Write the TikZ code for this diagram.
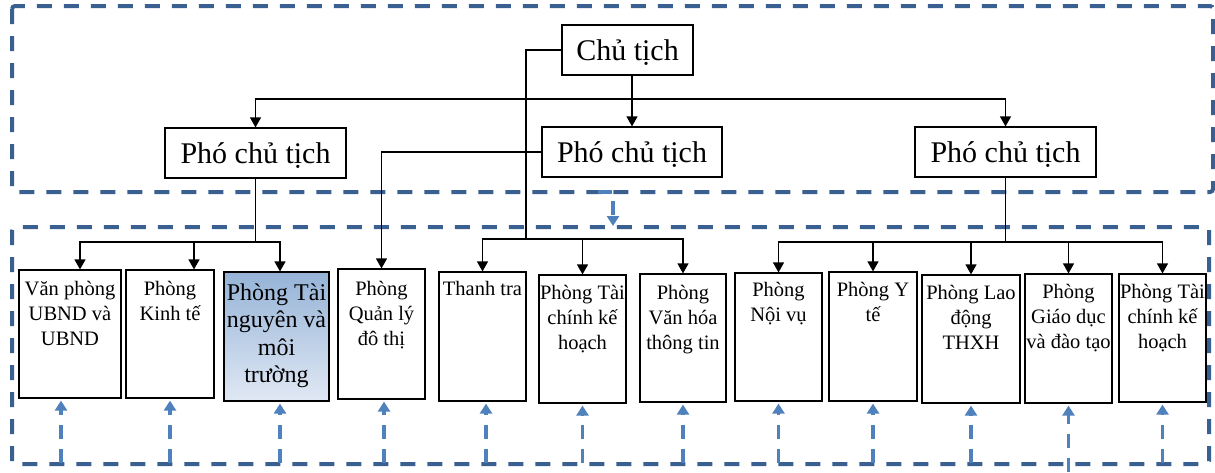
\documentclass[tikz,border=0pt]{standalone}
\usepackage{fontspec}
\setmainfont{Liberation Serif}
\usetikzlibrary{arrows.meta,calc}
\definecolor{frameblue}{RGB}{58,96,145}
\definecolor{linkblue}{RGB}{79,129,189}
\definecolor{shadetop}{RGB}{149,179,215}
\definecolor{shadebot}{RGB}{224,232,244}
\begin{document}
\begin{tikzpicture}[x=1pt,y=-1pt,
  frame/.style={draw=frameblue,line width=4pt,dash pattern=on 15pt off 12pt,rounded corners=3pt},
  lead/.style={draw,line width=1.2pt,inner sep=0pt,minimum height=50pt,text height=22pt,text depth=1pt,font=\fontsize{30}{34}\selectfont},
  dept/.style={draw,line width=1.2pt,inner sep=0pt},
  dtext/.style={anchor=north,align=center,inner sep=0pt,font=\fontsize{20.5}{25}\selectfont},
  conn/.style={draw=black,line width=1.2pt},
  arr/.style={conn,-{Triangle[width=11pt,length=10pt]}},
  uplink/.style={draw=linkblue,line width=3.8pt,dash pattern=on 14pt off 10pt,-{Triangle[width=12pt,length=10pt]}}]
\useasboundingbox (0,0) rectangle (1215,472);

% group frames
\draw[frame] (12,6) rectangle (1213,192);
\draw[frame] (12,227) rectangle (1209,464);

% leadership
\node[lead,minimum width=131pt] (ct) at (627.5,50) {Chủ tịch};
\node[lead,minimum width=181pt] (pl) at (255.5,153) {Phó chủ tịch};
\node[lead,minimum width=180pt] (pm) at (632,152) {Phó chủ tịch};
\node[lead,minimum width=181pt] (pr) at (1005.5,152) {Phó chủ tịch};

% departments
\node[dept,minimum width=102pt,minimum height=128pt] (vp) at (70,334) {};
\node[dept,minimum width=88pt,minimum height=128pt] (kt) at (170,334) {};
\node[dept,minimum width=105pt,minimum height=129pt,top color=shadetop,bottom color=shadebot] (tn) at (276.5,336.5) {};
\node[dept,minimum width=87pt,minimum height=130pt] (ql) at (381.5,334) {};
\node[dept,minimum width=87pt,minimum height=129pt] (tt) at (482.5,336.5) {};
\node[dept,minimum width=87pt,minimum height=128pt] (tc1) at (582.5,339) {};
\node[dept,minimum width=86pt,minimum height=128pt] (vh) at (683,338) {};
\node[dept,minimum width=87pt,minimum height=128pt] (nv) at (778.5,337) {};
\node[dept,minimum width=88pt,minimum height=129pt] (yt) at (873,336.5) {};
\node[dept,minimum width=98pt,minimum height=128pt] (ld) at (971,339) {};
\node[dept,minimum width=87pt,minimum height=129pt] (gd) at (1068.5,338.5) {};
\node[dept,minimum width=87pt,minimum height=128pt] (tc2) at (1162.5,338) {};

% department titles
\node[dtext] (vp-t) at ($(vp.north)+(0,12)$) {Văn phòng\\UBND và\\UBND};
\node[dtext] (kt-t) at ($(kt.north)+(0,12)$) {Phòng\\Kinh tế};
\node[dtext,font=\fontsize{24}{27.5}\selectfont] (tn-t) at ($(tn.north)+(0,12)$) {Phòng Tài\\nguyên và\\môi\\trường};
\node[dtext] (ql-t) at ($(ql.north)+(0,13)$) {Phòng\\Quản lý\\đô thị};
\node[dtext] (tt-t) at ($(tt.north)+(0,10)$) {Thanh tra};
\node[dtext] (tc1-t) at ($(tc1.north)+(0,11)$) {Phòng Tài\\chính kế\\hoạch};
\node[dtext] (vh-t) at ($(vh.north)+(0,12)$) {Phòng\\Văn hóa\\thông tin};
\node[dtext] (nv-t) at ($(nv.north)+(0,10)$) {Phòng\\Nội vụ};
\node[dtext] (yt-t) at ($(yt.north)+(0,11)$) {Phòng Y\\tế};
\node[dtext] (ld-t) at ($(ld.north)+(0,11)$) {Phòng Lao\\động\\THXH};
\node[dtext] (gd-t) at ($(gd.north)+(0,11)$) {Phòng\\Giáo dục\\và đào tạo};
\node[dtext] (tc2-t) at ($(tc2.north)+(0,11)$) {Phòng Tài\\chính kế\\hoạch};

% chairman to deputies
\coordinate (hub) at (632,99);
\draw[arr] (ct.south -| pm.north) -- (pm.north);
\draw[arr] (hub) -| (pl.north);
\draw[arr] (hub) -| (pr.north);

% chairman to inspection group
\coordinate (cbar) at (526,239);
\draw[conn] (ct.west) -| (cbar);
\draw[arr] (cbar) -| (tt.north);
\draw[arr] (cbar) -| (tc1.north);
\draw[arr] (cbar) -| (vh.north);

% middle deputy
\draw[arr] (pm.west) -| (ql.north);

% left deputy group
\coordinate (lbar) at (255.5,242);
\draw[conn] (pl.south) -- (lbar);
\draw[arr] (lbar) -| ($(vp.north)+(10,0)$);
\draw[arr] (lbar) -| ($(kt.north)+(24,0)$);
\draw[arr] (lbar) -| ($(tn.north)+(3.5,0)$);

% right deputy group
\coordinate (rbar) at (1005.5,242);
\draw[conn] (pr.south) -- (rbar);
\draw[arr] (rbar) -| (nv.north);
\draw[arr] (rbar) -| (yt.north);
\draw[arr] (rbar) -| (ld.north);
\draw[arr] (rbar) -| (gd.north);
\draw[arr] (rbar) -| (tc2.north);

% link between the two frames
\coordinate (drop-a) at (598,192);
\coordinate (drop-b) at (613,226);
\draw[uplink] (drop-a) -| (drop-b);

% links from the lower frame up to each department
\coordinate (base) at (0,463);
\coordinate (edge) at (0,472);
\draw[uplink] ($(vp.south |- base)+(-9,0)$) -- ($(vp.south)+(-9,2)$);
\draw[uplink] (kt.south |- base) -- ($(kt.south)+(0,2)$);
\draw[uplink] ($(tn.south |- base)+(3.5,0)$) -- ($(tn.south)+(3.5,2)$);
\draw[uplink] ($(ql.south |- base)+(2.5,0)$) -- ($(ql.south)+(2.5,2)$);
\draw[uplink] ($(tt.south |- base)+(3.5,0)$) -- ($(tt.south)+(3.5,2)$);
\draw[uplink] (tc1.south |- base) -- ($(tc1.south)+(0,2)$);
\draw[uplink] (vh.south |- base) -- ($(vh.south)+(0,2)$);
\draw[uplink] (nv.south |- base) -- ($(nv.south)+(0,2)$);
\draw[uplink] (yt.south |- base) -- ($(yt.south)+(0,2)$);
\draw[uplink] (ld.south |- base) -- ($(ld.south)+(0,2)$);
\draw[uplink] (gd.south |- edge) -- ($(gd.south)+(0,2)$);
\draw[uplink] (tc2.south |- base) -- ($(tc2.south)+(0,2)$);
\end{tikzpicture}
\end{document}
